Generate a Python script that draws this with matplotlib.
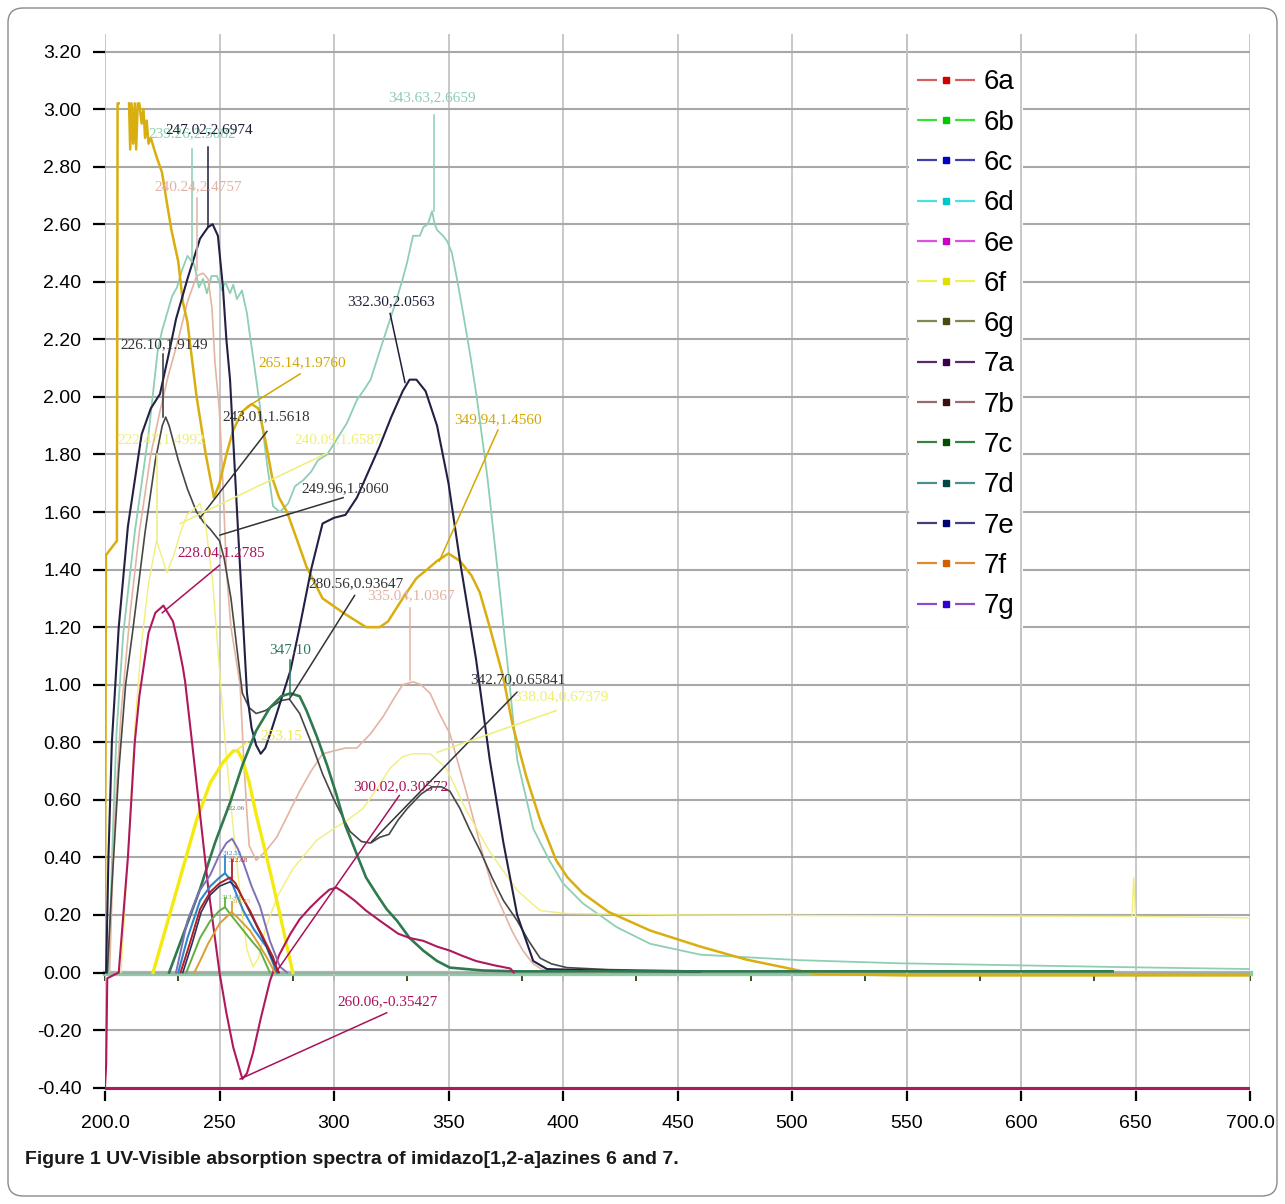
import numpy as np
import matplotlib
matplotlib.use("Agg")
import matplotlib.pyplot as plt
from matplotlib.lines import Line2D
from matplotlib.patches import FancyBboxPatch

nan = np.nan

# ---------------- data (wavelength nm, absorbance) ----------------
wl_mint = [201.5, 203.5, 205, 208, 213, 219, 223, 224.9, 229.3, 231.4, 233.6, 236, 238, 239, 241, 242.8,
           244.5, 246.5, 248.9, 251, 252.5, 254.6, 256, 257.6, 259.8, 262, 263, 265, 267.7, 270.7, 273.4,
           276.4, 280, 283, 286.5, 290, 293, 297, 301, 305.7, 310, 312.7, 316, 320, 324.5, 327, 330, 332,
           334.5, 337.5, 339, 341, 342.8, 344, 345, 347.6, 349.5, 351.5, 353.7, 356.4, 359.6, 362.5, 367,
           371, 375.6, 380, 387, 394, 400, 408.7, 423.6, 438, 460, 503, 547, 591, 650, 700]
abs_mint = [0, 0.5, 0.83, 1.18, 1.53, 1.87, 2.16, 2.23, 2.35, 2.38, 2.44, 2.49, 2.47, 2.46, 2.38, 2.41,
            2.36, 2.42, 2.42, 2.37, 2.40, 2.36, 2.39, 2.34, 2.37, 2.29, 2.23, 2.12, 1.965, 1.77, 1.62,
            1.60, 1.63, 1.69, 1.71, 1.74, 1.78, 1.80, 1.85, 1.91, 1.99, 2.02, 2.06, 2.16, 2.27, 2.33, 2.41,
            2.47, 2.56, 2.56, 2.59, 2.60, 2.645, 2.60, 2.58, 2.56, 2.54, 2.50, 2.41, 2.29, 2.14, 1.99, 1.72,
            1.43, 1.085, 0.74, 0.50, 0.39, 0.31, 0.24, 0.157, 0.10, 0.062, 0.043, 0.032, 0.026, 0.018, 0.012]

wl_navy = [200.5, 201.5, 203, 206, 210, 216, 220, 224, 228.4, 231, 236, 241.5, 245, 247, 249.3, 251.5,
           253, 254.6, 258, 262, 264, 266, 268, 270, 273, 277, 281, 285, 290, 295, 300, 305, 310, 315,
           320, 325, 330, 333, 336, 340, 345, 350, 355, 362, 368, 374, 380, 387, 393, 420, 460]
abs_navy = [0, 0.4, 0.8, 1.2, 1.55, 1.87, 1.96, 2.01, 2.17, 2.27, 2.41, 2.55, 2.59, 2.60, 2.56, 2.38,
            2.2, 2.06, 1.55, 0.97, 0.85, 0.79, 0.76, 0.78, 0.85, 0.95, 1.05, 1.2, 1.4, 1.56, 1.58, 1.59,
            1.65, 1.74, 1.83, 1.93, 2.02, 2.06, 2.06, 2.02, 1.9, 1.7, 1.43, 1.09, 0.74, 0.45, 0.2, 0.04,
            0.012, 0.006, 0.003]

wl_gold = [200.0, 200.4, 205.2, 205.5, 206.0, nan, 210.5, 211.0, 211.6, 212.3, 213.0, 213.6, 214.3, 215.0,
           216.0, 216.8, 217.5, 218.2, 219.0, 220.0, 221.5, 222.7, 224.9, 226.5, 229.0, 232.0, 234.0, 236.0,
           240.0, 244.0, 247.6, 250.0, 253.0, 256.0, 260.0, 264.0, 267.0, 270.0, 273.0, 276.0, 279.5, 284.0,
           288.0, 295.0, 304.0, 314.0, 320.0, 323.6, 330.0, 336.0, 340.6, 345.0, 350.0, 355.0, 360.0, 363.7,
           368.0, 373.8, 378.0, 384.0, 390.0, 397.0, 402.0, 408.7, 420.0, 438.0, 460.0, 480.0, 500.0, 510.0,
           550.0, 600.0, 700.0]
abs_gold = [0.0, 1.45, 1.50, 3.02, 3.02, nan, 3.02, 2.86, 3.02, 2.88, 3.02, 2.86, 3.02, 3.02,
            2.95, 3.0, 2.9, 2.96, 2.88, 2.9, 2.86, 2.83, 2.78, 2.7, 2.58, 2.47, 2.33, 2.26,
            2.0, 1.8, 1.65, 1.7, 1.8, 1.885, 1.95, 1.975, 1.96, 1.85, 1.72, 1.65, 1.6, 1.5,
            1.41, 1.30, 1.25, 1.20, 1.20, 1.22, 1.30, 1.37, 1.40, 1.43, 1.456, 1.43, 1.38, 1.32,
            1.20, 1.03, 0.86, 0.68, 0.53, 0.39, 0.33, 0.275, 0.21, 0.146, 0.09, 0.045, 0.012, -0.005,
            -0.01, -0.01, -0.01]

wl_peach = [202, 204, 207, 211, 215, 220, 224, 227.5, 232, 236, 240, 242.8, 245, 246.7, 248, 250, 251.5,
            253, 255, 257, 259, 260.5, 262, 263, 266, 270, 275, 280, 285, 290, 295, 300, 305, 310, 316,
            321.5, 326, 330, 334.5, 338, 342, 346, 350.6, 358, 365, 369, 373.8, 378, 382.5, 387, 391, 400, 420]
abs_peach = [0, 0.5, 0.9, 1.25, 1.53, 1.8, 1.95, 2.07, 2.2, 2.33, 2.42, 2.43, 2.41, 2.31, 2.12, 1.95, 1.7,
             1.4, 1.2, 1.1, 1.0, 0.75, 0.55, 0.44, 0.39, 0.42, 0.47, 0.55, 0.63, 0.70, 0.76, 0.77, 0.78, 0.78,
             0.83, 0.89, 0.95, 1.0, 1.01, 1.0, 0.97, 0.9, 0.83, 0.62, 0.41, 0.30, 0.215, 0.14, 0.076, 0.03,
             0.01, 0.003, 0.0]

wl_gray = [201, 203, 206, 209, 212, 217.5, 222, 225, 226.5, 228, 232, 236, 240, 243, 246, 250, 252, 255,
           258, 260, 263, 266, 270, 274, 277, 280.5, 285, 290, 295, 300, 307, 312, 316, 320, 324, 328, 332,
           338, 342.7, 347, 350.6, 355, 359, 364, 369, 374, 380, 385, 390, 395, 401.7, 420, 460]
abs_gray = [0, 0.3, 0.7, 1.0, 1.18, 1.53, 1.78, 1.9, 1.93, 1.9, 1.78, 1.68, 1.6, 1.565, 1.54, 1.5, 1.44, 1.3,
            1.1, 0.97, 0.92, 0.90, 0.91, 0.93, 0.945, 0.95, 0.9, 0.8, 0.69, 0.6, 0.49, 0.455, 0.45, 0.47, 0.48,
            0.53, 0.57, 0.62, 0.645, 0.645, 0.63, 0.57, 0.50, 0.42, 0.33, 0.25, 0.18, 0.11, 0.05, 0.03, 0.017,
            0.01, 0.005]

wl_ylight = [207, 210, 213, 216, 219, 222.5, 225, 227, 230, 233, 235.8, 241.5, 244, 247, 250, 253, 256, 260,
             262, 264.6, 267, 270, 275, 282, 292.5, 300, 306, 312.6, 318, 324.5, 330, 334.5, 342, 349, 358,
             368, 380, 390, 401.7, 450, 550, 648.5, 649.2, 650, 700]
abs_ylight = [0, 0.4, 0.85, 1.15, 1.35, 1.50, 1.44, 1.39, 1.45, 1.53, 1.59, 1.63, 1.55, 1.36, 1.05, 0.75, 0.5,
              0.2, 0.08, 0.02, 0.05, 0.15, 0.26, 0.36, 0.46, 0.5, 0.53, 0.57, 0.63, 0.71, 0.75, 0.76, 0.76,
              0.71, 0.56, 0.42, 0.285, 0.215, 0.205, 0.2, 0.197, 0.195, 0.33, 0.195, 0.19]

wl_ybright = [221, 230, 240, 246, 251.5, 256, 258, 260, 263, 266, 270, 273, 277, 282]
abs_ybright = [0, 0.25, 0.53, 0.66, 0.73, 0.77, 0.77, 0.74, 0.66, 0.55, 0.42, 0.32, 0.18, 0.0]

wl_dgreen = [228, 235, 241.5, 248, 254.6, 260, 266, 272, 277, 281, 285, 288, 292.5, 297, 301, 305, 310, 314,
             318.8, 323, 327.5, 333, 339, 345, 350.6, 365, 380, 640]
abs_dgreen = [0, 0.15, 0.29, 0.45, 0.59, 0.72, 0.84, 0.92, 0.96, 0.97, 0.96, 0.91, 0.82, 0.72, 0.62, 0.51,
              0.41, 0.33, 0.27, 0.22, 0.18, 0.12, 0.076, 0.04, 0.017, 0.007, 0.004, 0.004]

wl_crimson = [200, 200.5, 201, 206, 210, 213, 215, 219, 222, 225.5, 229.7, 232, 234, 235, 238, 241.5, 245,
              250, 253, 256, 260, 262, 264.6, 268, 272, 276, 281, 285, 289.5, 294, 298, 301, 304, 309, 314,
              320, 328, 333, 339, 345, 350.6, 356, 362, 370, 377, 378.5]
abs_crimson = [-0.40, -0.32, -0.02, 0.0, 0.4, 0.8, 0.96, 1.18, 1.25, 1.275, 1.22, 1.14, 1.06, 1.01, 0.8, 0.55,
               0.3, 0.0, -0.14, -0.26, -0.37, -0.35, -0.28, -0.16, -0.03, 0.06, 0.135, 0.185, 0.225, 0.26,
               0.288, 0.295, 0.28, 0.25, 0.215, 0.18, 0.135, 0.12, 0.11, 0.09, 0.076, 0.058, 0.04, 0.025,
               0.014, 0.0]

wl_floor = [200, 700]
abs_floor = [-0.40, -0.40]

wl_purple = [231, 236, 241, 246, 250, 253, 255.5, 258, 260.5, 264, 267.7, 272, 276.4, 279.5]
abs_purple = [0, 0.18, 0.28, 0.34, 0.41, 0.45, 0.465, 0.43, 0.38, 0.30, 0.23, 0.11, 0.02, 0]

wl_red = [233, 237, 241.5, 246, 250, 254.6, 257, 260, 263.3, 266, 269, 273.4, 275.6]
abs_red = [0, 0.1, 0.22, 0.28, 0.31, 0.33, 0.31, 0.26, 0.215, 0.17, 0.123, 0.053, 0]

wl_dblue = [234, 238, 242, 246, 250, 254.6, 258, 262, 266, 270, 274, 276]
abs_dblue = [0, 0.1, 0.21, 0.27, 0.3, 0.315, 0.29, 0.23, 0.165, 0.1, 0.03, 0]

wl_blue = [232, 236, 241.5, 246, 250, 252.4, 255, 258, 260.4, 265, 270.6, 275]
abs_blue = [0, 0.12, 0.25, 0.3, 0.33, 0.345, 0.32, 0.26, 0.215, 0.15, 0.088, 0]

wl_lgreen = [235.5, 238, 241.5, 246, 250, 252.4, 255, 258, 260.4, 264, 267.7, 272]
abs_lgreen = [0, 0.05, 0.12, 0.18, 0.215, 0.227, 0.2, 0.17, 0.146, 0.11, 0.076, 0]

wl_orange = [239, 241.5, 245, 250, 255.3, 258, 263.3, 267, 270.6, 274.2]
abs_orange = [0, 0.04, 0.1, 0.17, 0.21, 0.19, 0.146, 0.1, 0.053, 0]

legend_names = ["6a", "6b", "6c", "6d", "6e", "6f", "6g", "7a", "7b", "7c", "7d", "7e", "7f", "7g"]
legend_line_colors = ["#D26060", "#3CE03C", "#4040A8", "#50E0E0", "#E050E0", "#F0F050", "#868650",
                      "#5A2A6A", "#986A6A", "#3A8040", "#4A9090", "#40407F", "#E08A30", "#8A4CC8"]
legend_dot_colors = ["#D00000", "#00C800", "#0000C8", "#00C8C8", "#C800C8", "#E0E000", "#4A4A10",
                     "#3A0050", "#3A1010", "#005000", "#004848", "#000070", "#D06000", "#3000D0"]

x_ticks = [200, 250, 300, 350, 400, 450, 500, 550, 600, 650, 700]
x_tick_labels = ["200.0", "250", "300", "350", "400", "450", "500", "550", "600", "650", "700.0"]
y_ticks = [-0.4, -0.2, 0.0, 0.2, 0.4, 0.6, 0.8, 1.0, 1.2, 1.4, 1.6, 1.8, 2.0, 2.2, 2.4, 2.6, 2.8, 3.0, 3.2]
y_tick_labels = ["%.2f" % v for v in y_ticks]
zero_axis_ticks = [200, 232, 250, 282, 300, 332, 350, 382, 400, 432, 450, 482, 500, 532, 550, 582,
                   600, 632, 650, 700]

# peak annotations: text, text position, leader start, leader end, colour
annotations = [
    ("343.63,2.6659", (342.8, 3.04), (343.6, 2.645), (343.6, 2.98), "#8CCDB2"),
    ("239.26,2.5082", (238.2, 2.915), (237.9, 2.47), (237.9, 2.86), "#8CCDB2"),
    ("247.02,2.6974", (245.4, 2.93), (245.1, 2.59), (245.1, 2.87), "#1E1E3A"),
    ("240.24,2.4757", (240.8, 2.73), (240.2, 2.44), (240.2, 2.69), "#E2B2A2"),
    ("226.10,1.9149", (225.8, 2.18), (225.2, 1.93), (225.2, 2.15), "#333333"),
    ("265.14,1.9760", (286.2, 2.118), (262.0, 1.965), (285.2, 2.08), "#D4A800"),
    ("332.30,2.0563", (324.9, 2.33), (331.0, 2.05), (324.5, 2.29), "#1E1E3A"),
    ("243.01,1.5618", (270.5, 1.93), (241.5, 1.58), (270.7, 1.88), "#333333"),
    ("222.47,1.4992", (224.5, 1.85), (222.5, 1.50), (222.5, 1.80), "#EEEE78"),
    ("240.09,1.6587", (301.7, 1.85), (232.8, 1.56), (297.0, 1.805), "#EEEE78"),
    ("249.96,1.5060", (304.8, 1.68), (250.2, 1.52), (304.0, 1.65), "#333333"),
    ("228.04,1.2785", (250.7, 1.46), (225.0, 1.25), (250.0, 1.415), "#A8125A"),
    ("280.56,0.93647", (309.6, 1.35), (280.5, 0.95), (309.0, 1.31), "#333333"),
    ("335.04,1.0367", (333.6, 1.31), (333.2, 1.016), (333.2, 1.266), "#E2B2A2"),
    ("349.94,1.4560", (371.6, 1.92), (346.0, 1.43), (371.6, 1.885), "#D4A800"),
    ("347.10", (280.8, 1.12), (280.8, 0.96), (280.8, 1.085), "#2E7A5E"),
    ("342.70,0.65841", (380.1, 1.016), (316.5, 0.455), (380.0, 0.975), "#333333"),
    ("338.04,0.67379", (398.9, 0.957), (345.0, 0.765), (397.0, 0.91), "#EEEE78"),
    ("300.02,0.30572", (329.3, 0.645), (275.0, 0.005), (328.5, 0.615), "#A8125A"),
    ("260.06,-0.35427", (323.6, -0.10), (259.0, -0.37), (323.0, -0.14), "#A8125A"),
    ("253.15", (277.1, 0.82), (257.0, 0.77), (262.0, 0.80), "#F0E850"),
]
small_annotations = [
    ("322.06", (256.8, 0.57), "#6A6A7A"),
    ("312.55", (255.5, 0.415), "#2E86D0"),
    ("312.68", (258.0, 0.39), "#B02020"),
    ("313.40", (255.0, 0.26), "#60B040"),
    ("313.45", (259.5, 0.245), "#D9A030"),
]
small_leaders = [
    ((252.4, 0.345), (252.4, 0.405), "#2E86D0"),
    ((255.3, 0.33), (255.3, 0.39), "#B02020"),
    ((252.4, 0.227), (252.4, 0.26), "#60B040"),
    ((255.3, 0.21), (255.3, 0.245), "#D9A030"),
]

# ---------------- figure ----------------
plt.rcParams["lines.scale_dashes"] = False
W, H = 1285, 1204
fig = plt.figure(figsize=(W / 100, H / 100), dpi=100)
narrow = ["Liberation Sans Narrow", "Liberation Sans", "DejaVu Sans"]
serif = ["Liberation Serif", "DejaVu Serif"]

ymin, ymax = -0.41, 3.26
ax = fig.add_axes([105 / W, (H - 1090.5) / H, (1250 - 105) / W, 1056.2 / H])
ax.set_xlim(200, 700)
ax.set_ylim(ymin, ymax)
ax.set_axisbelow(True)
for s in ax.spines.values():
    s.set_visible(False)
ax.grid(True, axis="y", color="#A8A8A8", lw=1.5, zorder=0)
ax.grid(True, axis="x", color="#C4C4C4", lw=1.3, zorder=0)

ax.set_xticks(x_ticks)
ax.set_xticklabels(x_tick_labels, family=narrow, fontsize=14)
ax.set_yticks(y_ticks)
ax.set_yticklabels(y_tick_labels, family=narrow, fontsize=14)
ax.tick_params(axis="y", length=9, width=1.6, color="black", pad=8)
ax.tick_params(axis="x", length=7, width=1.6, color="black", pad=11)

# thick zero line with its own ticks
loc0 = (0 - ymin) / (ymax - ymin)
sec = ax.secondary_xaxis(loc0)
sec.set_xticks(zero_axis_ticks)
sec.set_xticklabels([])
sec.tick_params(axis="x", length=6, width=1.4, color="#35502A", direction="out")
sec.spines["bottom"].set_color("#8DCBA6")
sec.spines["bottom"].set_linewidth(3.8)

series = [
    (wl_floor, abs_floor, "#B2185E", 2.2),
    (wl_mint, abs_mint, "#8ECFB4", 1.3),
    (wl_peach, abs_peach, "#E4B4A2", 1.2),
    (wl_gray, abs_gray, "#474745", 1.2),
    (wl_ylight, abs_ylight, "#F2EE7C", 1.0),
    (wl_gold, abs_gold, "#D9AE0E", 1.8),
    (wl_navy, abs_navy, "#222045", 1.5),
    (wl_ybright, abs_ybright, "#F5EA10", 2.4),
    (wl_dgreen, abs_dgreen, "#2E7A4E", 1.9),
    (wl_crimson, abs_crimson, "#B0185C", 1.5),
    (wl_purple, abs_purple, "#7F70B8", 1.4),
    (wl_lgreen, abs_lgreen, "#60B040", 1.4),
    (wl_orange, abs_orange, "#D9A030", 1.4),
    (wl_blue, abs_blue, "#2E86D0", 1.5),
    (wl_dblue, abs_dblue, "#303060", 1.2),
    (wl_red, abs_red, "#B02020", 1.4),
]
for xs, ys, c, lw in series:
    ax.plot(xs, ys, color=c, lw=lw, zorder=3, solid_joinstyle="round")

for txt, tpos, p0, p1, c in annotations:
    ax.plot([p0[0], p1[0]], [p0[1], p1[1]], color=c, lw=1.1, zorder=4)
    ax.text(tpos[0], tpos[1], txt, color=c, family=serif, fontsize=11, ha="center", va="center",
            zorder=5)
for txt, tpos, c in small_annotations:
    ax.text(tpos[0], tpos[1], txt, color=c, family=serif, fontsize=5, ha="center", va="center", zorder=5)
for p0, p1, c in small_leaders:
    ax.plot([p0[0], p1[0]], [p0[1], p1[1]], color=c, lw=1.3, zorder=4)

# legend
handles = []
for name, lc, dc in zip(legend_names, legend_line_colors, legend_dot_colors):
    handles.append(Line2D([], [], color=lc, lw=1.6, linestyle=(0, (14.4, 13.0)), marker="s",
                          markersize=3.8, markerfacecolor=dc, markeredgecolor=dc, label=name))
leg = ax.legend(handles=handles, loc="upper left", bbox_to_anchor=((909 - 105) / 1145, (1090.5 - 61) / 1056.2),
                frameon=True, fancybox=False, edgecolor="none", facecolor="white", framealpha=1,
                borderaxespad=0, borderpad=0.3, numpoints=1, handlelength=2.09, handletextpad=0.3,
                labelspacing=0.515, prop={"family": ["Liberation Sans", "DejaVu Sans"], "size": 20})
leg.set_zorder(2)
for xv in (550, 600):
    ax.axvline(xv, color="#C4C4C4", lw=1.3, zorder=2.5)

# caption and frame
fig.text(25 / W, (H - 1160) / H, "Figure 1 UV-Visible absorption spectra of imidazo[1,2-a]azines 6 and 7.",
         family=narrow, fontsize=14, fontweight="bold", ha="left", va="center", color="#1A1A1A")
fig.patches.append(FancyBboxPatch((8 / W, 8 / H), (W - 16) / W, (H - 16) / H,
                                  boxstyle="round,pad=0,rounding_size=0.012", transform=fig.transFigure,
                                  fill=False, ec="#8A8A8A", lw=1.0))

fig.savefig("out.png", dpi=100)
